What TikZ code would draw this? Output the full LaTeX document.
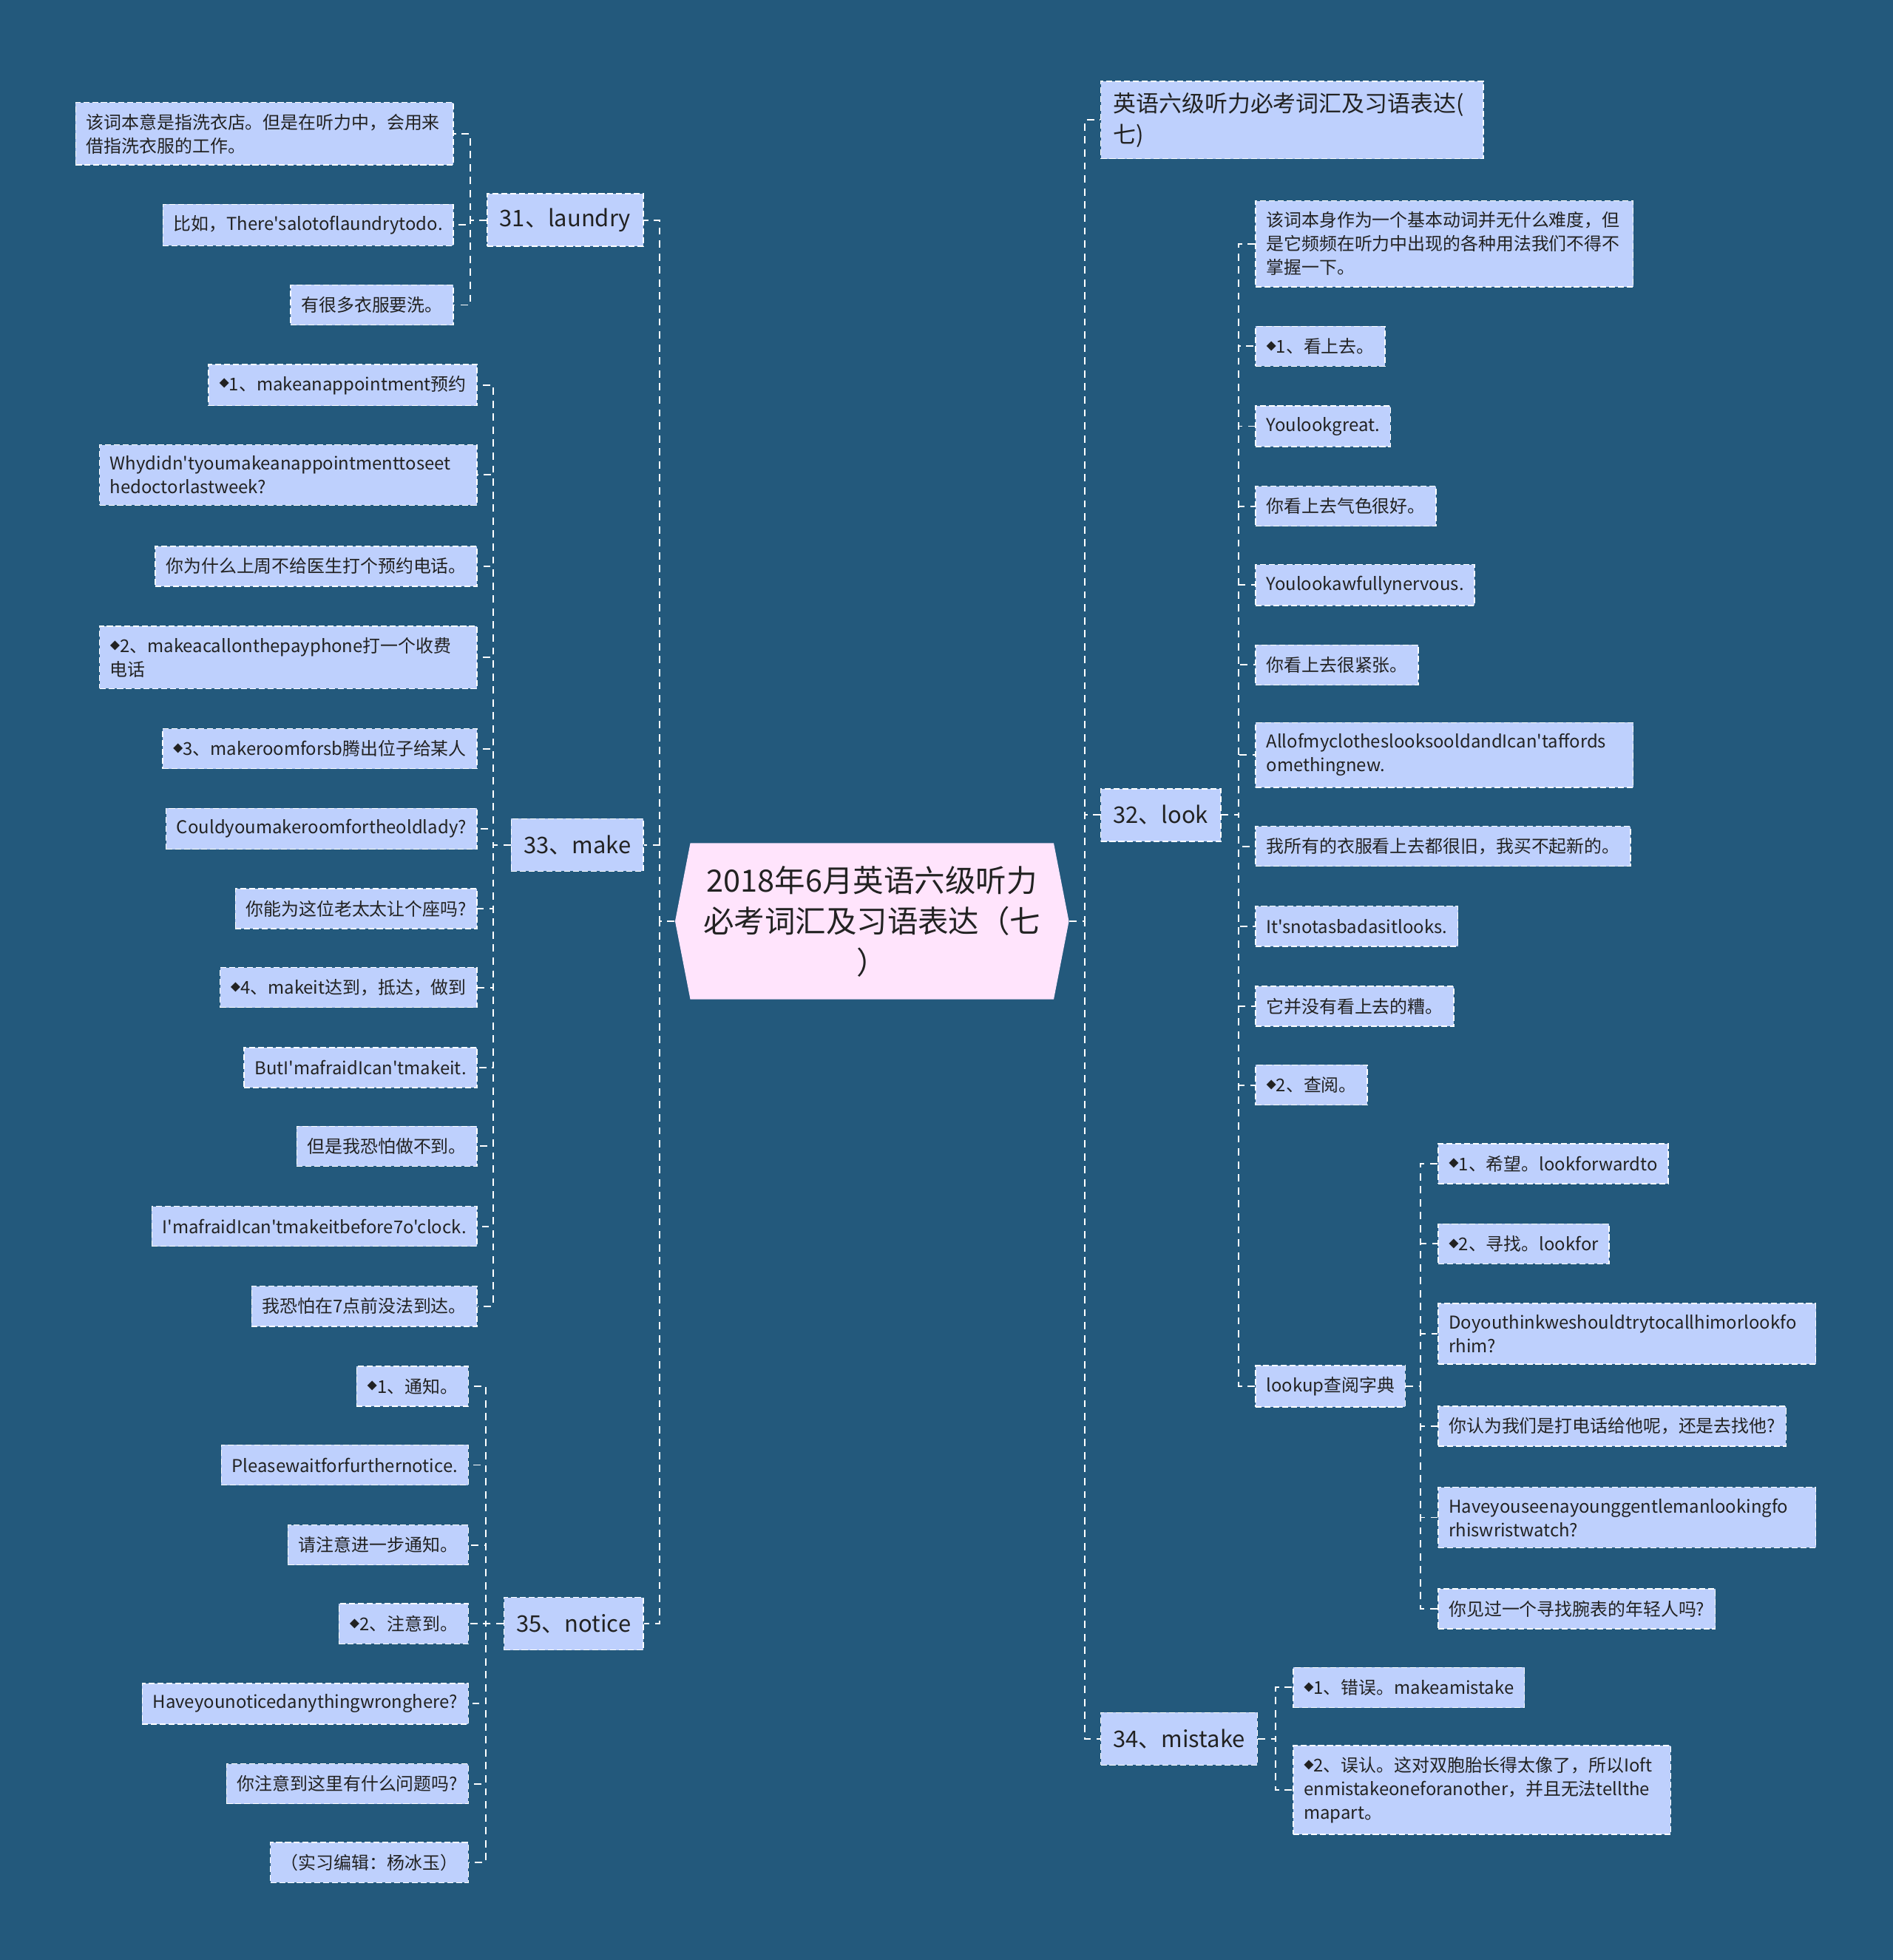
\documentclass[tikz,border=0pt]{standalone}
\usepackage{fontspec}
\setmainfont{Noto Sans CJK SC}[Ligatures=TeXOff]
\usetikzlibrary{shapes.symbols}
\definecolor{bgblue}{RGB}{35,89,124}
\definecolor{boxblue}{RGB}{190,208,253}
\definecolor{rootpink}{RGB}{255,228,252}
\definecolor{inkgray}{RGB}{34,34,34}
\newlength\px \setlength\px{0.016909cm}
\newcommand\dmd{\raisebox{0.18em}{\fontsize{3.8}{3.8}\selectfont ◆}}
\tikzset{
  leaf/.style={draw=white,dash pattern=on 2.3pt off 1.1pt,line width=0.4pt,fill=boxblue,text=inkgray,
    font=\fontsize{6.8}{9.1}\selectfont,inner xsep=8.5\px,inner ysep=4.3pt,minimum height=32\px,align=left},
  topic/.style={leaf,font=\fontsize{8.8}{12}\selectfont,inner xsep=10\px,minimum height=42\px},
  root/.style={signal,signal to=east and west,signal pointer angle=158,fill=rootpink,text=inkgray,
    font=\fontsize{11.8}{15.8}\selectfont,align=center,minimum width=315\px,minimum height=125\px,inner sep=0pt},
  conn/.style={draw=white,line width=0.55pt,dash pattern=on 2.8pt off 2.2pt}
}
\begin{document}
\begin{tikzpicture}[x=0.016909cm,y=-0.016909cm]
  \useasboundingbox (0,0) rectangle (1514,1568);
  \fill[bgblue] (0,0) rectangle (1514,1568);

  % Centre
  \node[root] (root) at (697.5,737) {2018年6月英语六级听力\\必考词汇及习语表达（七\\）};

  % Topics
  \node[topic,anchor=east] (t31) at (515,176) {31、laundry};
  \node[topic,anchor=east] (t33) at (515,676) {33、make};
  \node[topic,anchor=east] (t35) at (515,1299) {35、notice};
  \node[topic,anchor=west,text width=286\px] (t0) at (880,96) {英语六级听力必考词汇及习语表达(\\七)};
  \node[topic,anchor=west] (t32) at (880,652) {32、look};
  \node[topic,anchor=west] (t34) at (880,1391) {34、mistake};

  % laundry
  \node[leaf,anchor=east,text width=285\px] (la1) at (363,107) {该词本意是指洗衣店。但是在听力中，会用来\\借指洗衣服的工作。};
  \node[leaf,anchor=east] (la2) at (363,180) {比如，There'salotoflaundrytodo.};
  \node[leaf,anchor=east] (la3) at (363,244) {有很多衣服要洗。};

  % make
  \node[leaf,anchor=east] (ma1) at (382,308) {\dmd1、makeanappointment预约};
  \node[leaf,anchor=east,text width=285\px] (ma2) at (382,380) {Whydidn'tyoumakeanappointmenttoseet\\hedoctorlastweek?};
  \node[leaf,anchor=east] (ma3) at (382,453) {你为什么上周不给医生打个预约电话。};
  \node[leaf,anchor=east,text width=285\px] (ma4) at (382,526) {\dmd2、makeacallonthepayphone打一个收费\\电话};
  \node[leaf,anchor=east] (ma5) at (382,599) {\dmd3、makeroomforsb腾出位子给某人};
  \node[leaf,anchor=east] (ma6) at (382,663) {Couldyoumakeroomfortheoldlady?};
  \node[leaf,anchor=east] (ma7) at (382,727) {你能为这位老太太让个座吗?};
  \node[leaf,anchor=east] (ma8) at (382,790) {\dmd4、makeit达到，抵达，做到};
  \node[leaf,anchor=east] (ma9) at (382,854) {ButI'mafraidIcan'tmakeit.};
  \node[leaf,anchor=east] (ma10) at (382,917) {但是我恐怕做不到。};
  \node[leaf,anchor=east] (ma11) at (382,981) {I'mafraidIcan'tmakeitbefore7o'clock.};
  \node[leaf,anchor=east] (ma12) at (382,1045) {我恐怕在7点前没法到达。};

  % notice
  \node[leaf,anchor=east] (no1) at (375,1109) {\dmd1、通知。};
  \node[leaf,anchor=east] (no2) at (375,1172) {Pleasewaitforfurthernotice.};
  \node[leaf,anchor=east] (no3) at (375,1236) {请注意进一步通知。};
  \node[leaf,anchor=east] (no4) at (375,1299) {\dmd2、注意到。};
  \node[leaf,anchor=east] (no5) at (375,1363) {Haveyounoticedanythingwronghere?};
  \node[leaf,anchor=east] (no6) at (375,1427) {你注意到这里有什么问题吗?};
  \node[leaf,anchor=east] (no7) at (375,1490) {（实习编辑：杨冰玉）};

  % look
  \node[leaf,anchor=west,text width=285\px] (lk1) at (1004,195) {该词本身作为一个基本动词并无什么难度，但\\是它频频在听力中出现的各种用法我们不得不\\掌握一下。};
  \node[leaf,anchor=west] (lk2) at (1004,277) {\dmd1、看上去。};
  \node[leaf,anchor=west] (lk3) at (1004,341) {Youlookgreat.};
  \node[leaf,anchor=west] (lk4) at (1004,405) {你看上去气色很好。};
  \node[leaf,anchor=west] (lk5) at (1004,468) {Youlookawfullynervous.};
  \node[leaf,anchor=west] (lk6) at (1004,532) {你看上去很紧张。};
  \node[leaf,anchor=west,text width=285\px] (lk7) at (1004,604) {AllofmyclotheslooksooldandIcan'taffords\\omethingnew.};
  \node[leaf,anchor=west] (lk8) at (1004,677) {我所有的衣服看上去都很旧，我买不起新的。};
  \node[leaf,anchor=west] (lk9) at (1004,741) {It'snotasbadasitlooks.};
  \node[leaf,anchor=west] (lk10) at (1004,805) {它并没有看上去的糟。};
  \node[leaf,anchor=west] (lk11) at (1004,868) {\dmd2、查阅。};
  \node[leaf,anchor=west] (lk12) at (1004,1109) {lookup查阅字典};

  % lookup
  \node[leaf,anchor=west] (lu1) at (1150,931) {\dmd1、希望。lookforwardto};
  \node[leaf,anchor=west] (lu2) at (1150,995) {\dmd2、寻找。lookfor};
  \node[leaf,anchor=west,text width=285\px] (lu3) at (1150,1067) {Doyouthinkweshouldtrytocallhimorlookfo\\rhim?};
  \node[leaf,anchor=west] (lu4) at (1150,1141) {你认为我们是打电话给他呢，还是去找他?};
  \node[leaf,anchor=west,text width=285\px] (lu5) at (1150,1214) {Haveyouseenayounggentlemanlookingfo\\rhiswristwatch?};
  \node[leaf,anchor=west] (lu6) at (1150,1287) {你见过一个寻找腕表的年轻人吗?};

  % mistake
  \node[leaf,anchor=west] (mi1) at (1034,1350) {\dmd1、错误。makeamistake};
  \node[leaf,anchor=west,text width=285\px] (mi2) at (1034,1432) {\dmd2、误认。这对双胞胎长得太像了，所以Ioft\\enmistakeoneforanother，并且无法tellthe\\mapart。};

  % Connectors
  \foreach \t in {t31,t33,t35} \draw[conn] (root.west) -- ++(-12,0) |- (\t.east);
  \foreach \t in {t0,t32,t34} \draw[conn] (root.east) -- ++(12,0) |- (\t.west);
  \foreach \i in {1,...,3} \draw[conn] (t31.west) -- ++(-13,0) |- (la\i.east);
  \foreach \i in {1,...,12} \draw[conn] (t33.west) -- ++(-14,0) |- (ma\i.east);
  \foreach \i in {1,...,7} \draw[conn] (t35.west) -- ++(-14,0) |- (no\i.east);
  \foreach \i in {1,...,12} \draw[conn] (t32.east) -- ++(14,0) |- (lk\i.west);
  \foreach \i in {1,...,6} \draw[conn] (lk12.east) -- ++(12,0) |- (lu\i.west);
  \foreach \i in {1,2} \draw[conn] (t34.east) -- ++(14,0) |- (mi\i.west);
\end{tikzpicture}
\end{document}
